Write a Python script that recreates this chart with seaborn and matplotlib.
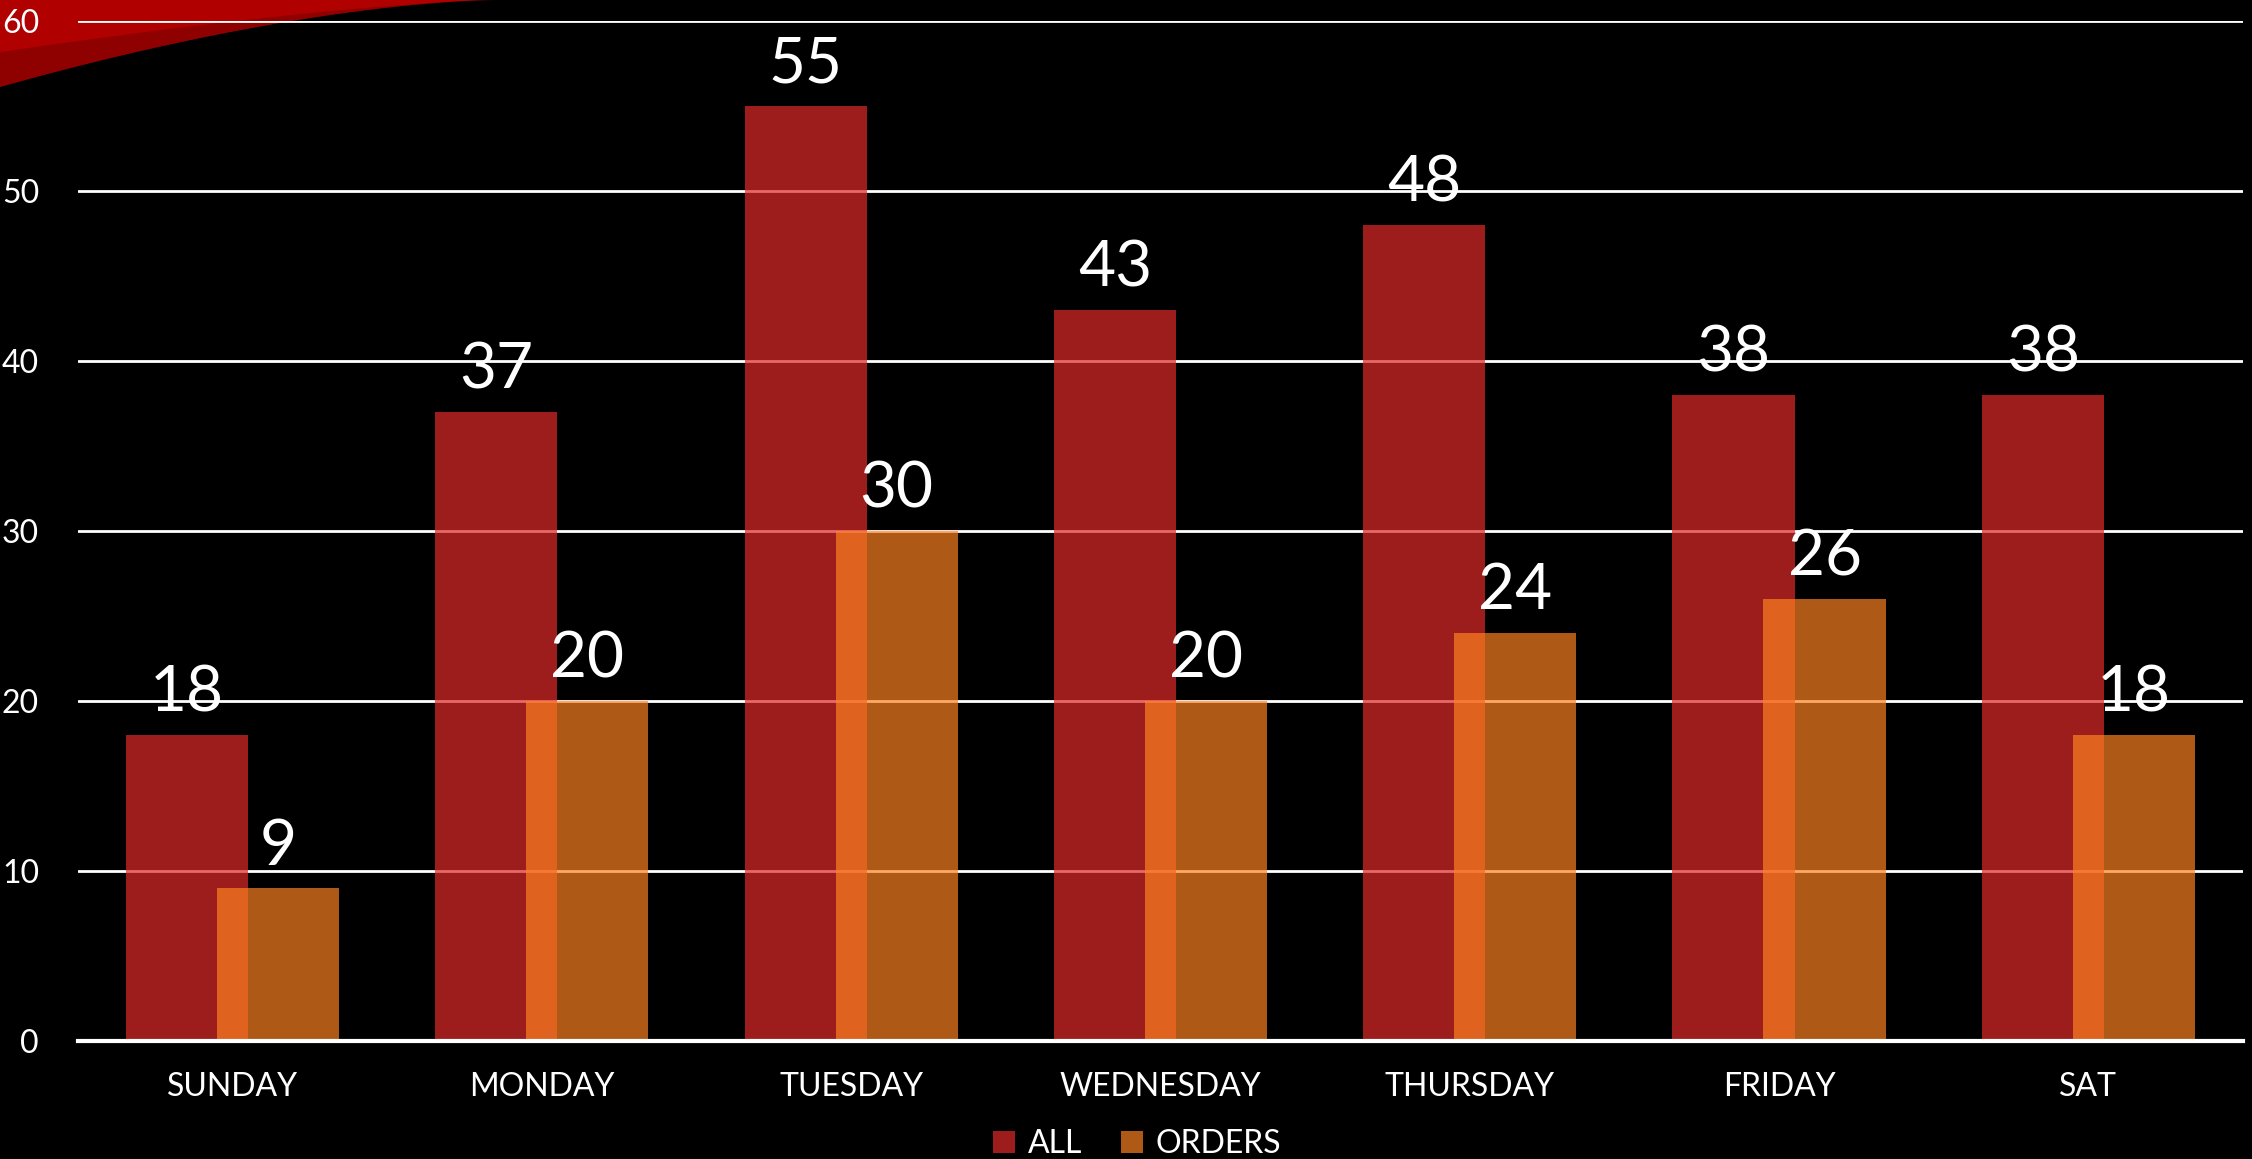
import matplotlib
matplotlib.use("Agg")
import matplotlib.pyplot as plt
from matplotlib.patches import Polygon, Patch
import numpy as np
import pandas as pd
import seaborn as sns

# data
days = ["SUNDAY", "MONDAY", "TUESDAY", "WEDNESDAY", "THURSDAY", "FRIDAY", "SAT"]
all_vals = [18, 37, 55, 43, 48, 38, 38]
order_vals = [9, 20, 30, 20, 24, 26, 18]

df = pd.DataFrame({"day": days, "ALL": all_vals, "ORDERS": order_vals})

sns.set_theme(style="dark")
plt.rcParams["font.family"] = ["Lato", "DejaVu Sans"]

red = (0.875, 0.16, 0.16)
orange = (1.0, 0.51, 0.125)
red_a = 0.71
orange_a = 0.69

fig = plt.figure(figsize=(22.52, 11.59), dpi=100, facecolor="black")

# red swoosh decoration top-left
t = np.linspace(0, 1, 60)
xs = 0.22 * t
ys = 1 - 0.075 * (1 - t) ** 1.6
outer = np.column_stack([np.r_[xs, 0, 0], np.r_[ys, 1, ys[0]]])
fig.patches.append(Polygon(outer, closed=True, transform=fig.transFigure,
                           facecolor="#b00000", edgecolor="none", zorder=0))
ys2 = 1 - 0.045 * (1 - t) ** 1.4
band = np.column_stack([np.r_[xs, xs[::-1]], np.r_[ys, ys2[::-1]]])
fig.patches.append(Polygon(band, closed=True, transform=fig.transFigure,
                           facecolor="#7a0000", edgecolor="none", zorder=0, alpha=0.6))

ax = fig.add_axes([0.0346, 0.1018, 0.9614, 0.8801])
ax.set_facecolor("none")
ax.set_zorder(2)

bw = 0.395
shift = 0.147

sns.barplot(data=df, x="day", y="ALL", color=red, alpha=red_a, width=bw,
            saturation=1, ax=ax, errorbar=None)
n = len(days)
for p in ax.patches[:n]:
    p.set_x(p.get_x() - shift)
    p.set_edgecolor("none")
sns.barplot(data=df, x="day", y="ORDERS", color=orange, alpha=orange_a, width=bw,
            saturation=1, ax=ax, errorbar=None)
for p in ax.patches[n:]:
    p.set_x(p.get_x() + shift)
    p.set_edgecolor("none")

for c in ax.containers:
    ax.bar_label(c, padding=9, color="white", fontsize=46)

ax.set_ylim(0, 60)
ax.set_xlim(-0.5, n - 0.5)
ax.set_yticks(range(0, 61, 10))
ax.set_axisbelow(True)
ax.grid(axis="y", color="white", linewidth=2)
ax.grid(axis="x", visible=False)
for s in ["top", "right", "left"]:
    ax.spines[s].set_visible(False)
ax.spines["bottom"].set_color("white")
ax.spines["bottom"].set_linewidth(3)
ax.spines["bottom"].set_zorder(5)
ax.tick_params(axis="y", colors="white", labelsize=23, length=0, pad=28)
ax.tick_params(axis="x", colors="white", labelsize=23, length=0, pad=22)
ax.set_xlabel("")
ax.set_ylabel("")

handles = [Patch(facecolor=red, alpha=red_a, edgecolor="none"),
           Patch(facecolor=orange, alpha=orange_a, edgecolor="none")]
leg = fig.legend(handles, ["ALL", "ORDERS"], loc="center", bbox_to_anchor=(0.505, 0.013),
                 ncol=2, frameon=False, fontsize=23, labelcolor="white",
                 handlelength=0.7, handleheight=0.7, handletextpad=0.4, columnspacing=1.2)

fig.savefig("out.png", dpi=100, facecolor="black")
